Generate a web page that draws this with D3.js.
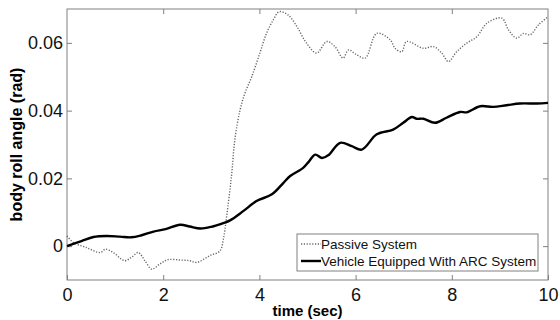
<!DOCTYPE html>
<html lang="en">
<head>
  <meta charset="UTF-8">
  <title>Body roll angle</title>
  <script src="https://cdn.jsdelivr.net/npm/d3@7"></script>
  <style>
    body { margin: 0; background: #fff; font-family: Arial, "Liberation Sans", sans-serif; }
    svg { display: block; }
  </style>
</head>
<body>
  <svg width="560" height="320"></svg>
  <script>
    // time (sec) and body roll angle (rad)
    const passiveTime = [0, 0.13, 0.4, 0.69, 0.8, 0.96, 1.2, 1.34, 1.48, 1.62, 1.76, 1.93, 2.1, 2.35, 2.55, 2.7, 2.97, 3.18, 3.25, 3.32, 3.42, 3.49, 3.6, 3.7, 3.84, 4.01, 4.15, 4.29, 4.41, 4.6, 4.78, 4.98, 5.19, 5.4, 5.57, 5.74, 5.85, 6.02, 6.2, 6.44, 6.72, 6.82, 6.96, 7.06, 7.41, 7.62, 7.79, 7.93, 8.1, 8.31, 8.52, 8.73, 9.04, 9.18, 9.35, 9.49, 9.63, 9.8, 10];
    const passiveRoll = [0.003, 0.0011, -0.0004, -0.0019, -0.0009, -0.0019, -0.0043, -0.0033, -0.0019, -0.0043, -0.0068, -0.0053, -0.004, -0.0041, -0.0043, -0.0048, -0.0028, -0.0014, 0.002, 0.0089, 0.0207, 0.0315, 0.0403, 0.0452, 0.05, 0.057, 0.0629, 0.0668, 0.0692, 0.0682, 0.0648, 0.0599, 0.057, 0.0604, 0.0589, 0.0555, 0.0579, 0.0565, 0.0555, 0.0628, 0.0609, 0.0584, 0.0574, 0.0604, 0.0584, 0.0589, 0.057, 0.0545, 0.0574, 0.0599, 0.0618, 0.0658, 0.0673, 0.0638, 0.0614, 0.0628, 0.0624, 0.0653, 0.0677];

    const arcTime = [0, 0.3, 0.55, 0.82, 1.1, 1.34, 1.55, 1.8, 2.05, 2.35, 2.55, 2.77, 3.0, 3.25, 3.39, 3.67, 3.94, 4.26, 4.5, 4.64, 4.91, 5.02, 5.16, 5.3, 5.43, 5.68, 5.92, 6.13, 6.44, 6.78, 6.99, 7.17, 7.27, 7.41, 7.65, 7.89, 8.17, 8.31, 8.59, 8.86, 9.14, 9.42, 9.77, 10];
    const arcRoll = [0.0, 0.0015, 0.0027, 0.003, 0.0028, 0.0026, 0.0032, 0.0043, 0.005, 0.0063, 0.0058, 0.0052, 0.0057, 0.0068, 0.0076, 0.0104, 0.0133, 0.0153, 0.0187, 0.0207, 0.0231, 0.0248, 0.027, 0.026, 0.0268, 0.0305, 0.0295, 0.0285, 0.033, 0.0344, 0.0364, 0.0381, 0.0376, 0.0376, 0.0364, 0.0379, 0.0396, 0.0395, 0.0413, 0.0411, 0.0416, 0.0421, 0.0421, 0.0423];

    const xTicks = [0, 2, 4, 6, 8, 10];
    const yTicks = [0, 0.02, 0.04, 0.06];
    const yTickLabels = ['0', '0.02', '0.04', '0.06'];
    const seriesNames = ['Passive System', 'Vehicle Equipped With ARC System'];

    const margin = { top: 9, right: 12, bottom: 40, left: 67 };
    const width = 560, height = 320;

    const x = d3.scaleLinear().domain([0, 10]).range([margin.left, width - margin.right]);
    const y = d3.scaleLinear().domain([-0.01, 0.07]).range([height - margin.bottom, margin.top]);

    const svg = d3.select('svg');

    // frame
    svg.append('rect')
      .attr('x', x(0)).attr('y', y(0.07))
      .attr('width', x(10) - x(0)).attr('height', y(-0.01) - y(0.07))
      .attr('fill', 'none').attr('stroke', '#808080').attr('stroke-width', 1);

    function styleAxis(g) {
      g.select('.domain').remove();
      g.selectAll('.tick line').attr('stroke', '#808080');
      g.selectAll('.tick text').attr('fill', '#111')
        .style('font-family', 'Arial, "Liberation Sans", sans-serif')
        .style('font-size', '18px');
    }

    svg.append('g')
      .attr('transform', `translate(0,${y(-0.01)})`)
      .call(d3.axisBottom(x).tickValues(xTicks).tickFormat(d3.format('d')).tickSize(-5).tickPadding(8))
      .call(styleAxis);

    svg.append('g')
      .attr('transform', `translate(0,${y(0.07)})`)
      .call(d3.axisTop(x).tickValues(xTicks.slice(1, -1)).tickFormat('').tickSize(-5))
      .call(styleAxis);

    svg.append('g')
      .attr('transform', `translate(${x(0)},0)`)
      .call(d3.axisLeft(y).tickValues(yTicks).tickFormat((d, i) => yTickLabels[i]).tickSize(-5).tickPadding(4))
      .call(styleAxis);

    svg.append('g')
      .attr('transform', `translate(${x(10)},0)`)
      .call(d3.axisRight(y).tickValues(yTicks).tickFormat('').tickSize(-5))
      .call(styleAxis);

    const line = d3.line()
      .x(d => x(d[0]))
      .y(d => y(d[1]))
      .curve(d3.curveCatmullRom.alpha(0.5));

    const passive = passiveTime.map((t, i) => [t, passiveRoll[i]]);
    const arc = arcTime.map((t, i) => [t, arcRoll[i]]);

    svg.append('path')
      .datum(passive)
      .attr('d', line)
      .attr('fill', 'none')
      .attr('stroke', '#666')
      .attr('stroke-width', 1.4)
      .attr('stroke-dasharray', '1.2,1.6');

    svg.append('path')
      .datum(arc)
      .attr('d', line)
      .attr('fill', 'none')
      .attr('stroke', '#000')
      .attr('stroke-width', 2.4);

    // axis labels
    svg.append('text')
      .attr('x', (x(0) + x(10)) / 2)
      .attr('y', 316)
      .attr('text-anchor', 'middle')
      .style('font-size', '15px')
      .style('font-weight', 'bold')
      .text('time (sec)');

    svg.append('text')
      .attr('transform', `translate(22,${(y(-0.01) + y(0.07)) / 2}) rotate(-90)`)
      .attr('text-anchor', 'middle')
      .style('font-size', '16px')
      .style('font-weight', 'bold')
      .text('body roll angle (rad)');

    // legend
    const legend = svg.append('g').attr('transform', 'translate(297,234)');
    legend.append('rect')
      .attr('width', 241).attr('height', 37)
      .attr('fill', '#fff').attr('stroke', '#808080');
    const legendStyles = [
      { stroke: '#666', width: 1.4, dash: '1.2,1.6' },
      { stroke: '#000', width: 2.4, dash: null }
    ];
    seriesNames.forEach((name, i) => {
      const row = legend.append('g').attr('transform', `translate(0,${10 + i * 17})`);
      row.append('line')
        .attr('x1', 4).attr('x2', 24).attr('y1', 0).attr('y2', 0)
        .attr('stroke', legendStyles[i].stroke)
        .attr('stroke-width', legendStyles[i].width)
        .attr('stroke-dasharray', legendStyles[i].dash);
      row.append('text')
        .attr('x', 24).attr('y', 5)
        .style('font-size', '13.5px')
        .attr('fill', '#111')
        .text(name);
    });
  </script>
</body>
</html>
